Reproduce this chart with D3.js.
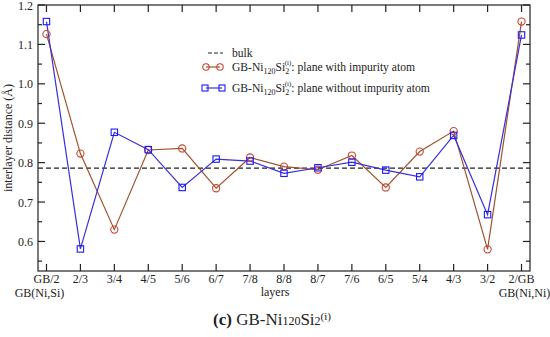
<!DOCTYPE html>
<html>
<head>
<meta charset="utf-8">
<script src="https://cdn.jsdelivr.net/npm/d3@7"></script>
<style>
  body { margin: 0; background: #fff; }
  svg { font-family: "Liberation Serif", "DejaVu Serif", serif; }
</style>
</head>
<body>
<svg id="chart" width="550" height="337"></svg>
<script>
// ##### Data
var layers = ['GB/2', '2/3', '3/4', '4/5', '5/6', '6/7', '7/8', '8/8', '8/7', '7/6', '6/5', '5/4', '4/3', '3/2', '2/GB'];
var withImpurity = [1.126, 0.823, 0.630, 0.832, 0.836, 0.735, 0.813, 0.790, 0.782, 0.818, 0.737, 0.828, 0.880, 0.580, 1.158];
var withoutImpurity = [1.158, 0.581, 0.877, 0.833, 0.737, 0.809, 0.804, 0.773, 0.787, 0.801, 0.781, 0.764, 0.869, 0.668, 1.124];
var bulkValue = 0.786;
var yTicks = [0.6, 0.7, 0.8, 0.9, 1.0, 1.1, 1.2];

// ##### Layout
var svg = d3.select('#chart');
var plotL = 38, plotR = 530, plotT = 5, plotB = 271;

var x = d3.scaleLinear().domain([-0.25, layers.length - 0.75]).range([plotL, plotR]);
var y = d3.scaleLinear().domain([0.525, 1.2]).range([plotB, plotT]);

var redLine = '#a0522d', redMark = '#c8452e';
var blueLine = '#3a2fd8', blueMark = '#1a1aff';

// Frame
svg.append('rect')
  .attr('x', plotL).attr('y', plotT)
  .attr('width', plotR - plotL).attr('height', plotB - plotT)
  .attr('fill', 'none').attr('stroke', '#222').attr('stroke-width', 1.2);

// Inward ticks: bottom & top (major), left & right (major + minor)
var xIdx = d3.range(layers.length);
var tickG = svg.append('g').attr('stroke', '#222').attr('stroke-width', 1.2);
xIdx.forEach(function(i) {
  tickG.append('line').attr('x1', x(i)).attr('x2', x(i)).attr('y1', plotB).attr('y2', plotB - 7);
  tickG.append('line').attr('x1', x(i)).attr('x2', x(i)).attr('y1', plotT).attr('y2', plotT + 7);
});
var minor = [0.55, 0.65, 0.75, 0.85, 0.95, 1.05, 1.15];
yTicks.forEach(function(v) {
  tickG.append('line').attr('x1', plotL).attr('x2', plotL + 7).attr('y1', y(v)).attr('y2', y(v));
  tickG.append('line').attr('x1', plotR).attr('x2', plotR - 7).attr('y1', y(v)).attr('y2', y(v));
});
minor.forEach(function(v) {
  tickG.append('line').attr('x1', plotL).attr('x2', plotL + 4).attr('y1', y(v)).attr('y2', y(v));
  tickG.append('line').attr('x1', plotR).attr('x2', plotR - 4).attr('y1', y(v)).attr('y2', y(v));
});

// Tick labels
svg.append('g').selectAll('text')
  .data(yTicks).enter().append('text')
  .attr('x', plotL - 5).attr('y', function(d) { return y(d) + 4.5; })
  .attr('text-anchor', 'end').attr('font-size', 12).attr('fill', '#222')
  .text(function(d) { return d.toFixed(1); });

svg.append('g').selectAll('text')
  .data(layers).enter().append('text')
  .attr('x', function(d, i) { return x(i); }).attr('y', plotB + 12)
  .attr('text-anchor', 'middle').attr('font-size', 12).attr('fill', '#222')
  .text(function(d) { return d; });

svg.append('text').attr('x', x(0) - 7).attr('y', plotB + 26)
  .attr('text-anchor', 'middle').attr('font-size', 12).attr('fill', '#222').text('GB(Ni,Si)');
svg.append('text').attr('x', x(layers.length - 1) + 3).attr('y', plotB + 26)
  .attr('text-anchor', 'middle').attr('font-size', 12).attr('fill', '#222').text('GB(Ni,Ni)');

// Axis titles
svg.append('text').attr('x', 275).attr('y', plotB + 25)
  .attr('text-anchor', 'middle').attr('font-size', 12).attr('fill', '#222').text('layers');
svg.append('text')
  .attr('transform', 'translate(12,' + (plotT + plotB) / 2 + ') rotate(-90)')
  .attr('text-anchor', 'middle').attr('font-size', 12).attr('fill', '#222')
  .text('interlayer distance (Å)');

// Bulk line
svg.append('line')
  .attr('x1', plotL).attr('x2', plotR).attr('y1', y(bulkValue)).attr('y2', y(bulkValue))
  .attr('stroke', '#222').attr('stroke-width', 1.1).attr('stroke-dasharray', '5,3');

// Series
var line = d3.line().x(function(d, i) { return x(i); }).y(function(d) { return y(d); });

svg.append('path').datum(withImpurity)
  .attr('d', line).attr('fill', 'none').attr('stroke', redLine).attr('stroke-width', 1.2);
svg.append('path').datum(withoutImpurity)
  .attr('d', line).attr('fill', 'none').attr('stroke', blueLine).attr('stroke-width', 1.2);

svg.append('g').selectAll('circle')
  .data(withImpurity).enter().append('circle')
  .attr('cx', function(d, i) { return x(i); }).attr('cy', function(d) { return y(d); })
  .attr('r', 3.6).attr('fill', 'none').attr('stroke', redMark).attr('stroke-width', 1.1);

svg.append('g').selectAll('rect')
  .data(withoutImpurity).enter().append('rect')
  .attr('x', function(d, i) { return x(i) - 3.2; }).attr('y', function(d) { return y(d) - 3.2; })
  .attr('width', 6.4).attr('height', 6.4)
  .attr('fill', 'none').attr('stroke', blueMark).attr('stroke-width', 1.1);

// ##### Legend
var lg = svg.append('g').attr('font-size', 11.6).attr('fill', '#222');
var lx1 = 206, lx2 = 220, tx = 232;
lg.append('line').attr('x1', lx1 + 2).attr('x2', lx2 + 3).attr('y1', 53).attr('y2', 53)
  .attr('stroke', '#222').attr('stroke-dasharray', '4,2');
lg.append('text').attr('x', tx).attr('y', 57).text('bulk');

function seriesLabel(yy, suffix) {
  var t = lg.append('text').attr('x', tx).attr('y', yy + 4);
  t.append('tspan').text('GB-Ni');
  t.append('tspan').attr('font-size', 8).attr('dy', 3).text('120');
  t.append('tspan').attr('dy', -3).text('Si');
  t.append('tspan').attr('font-size', 8).attr('dy', 3).text('2');
  t.append('tspan').attr('font-size', 7).attr('dx', -4.5).attr('dy', -9).text('(i)');
  t.append('tspan').attr('dy', 6).text(': ' + suffix);
}

lg.append('line').attr('x1', lx1).attr('x2', lx2).attr('y1', 67).attr('y2', 67).attr('stroke', redLine).attr('stroke-width', 1.2);
[lx1, lx2].forEach(function(px) {
  lg.append('circle').attr('cx', px).attr('cy', 67).attr('r', 3.2).attr('fill', 'none').attr('stroke', redMark).attr('stroke-width', 1.1);
});
seriesLabel(67, 'plane with impurity atom');

lg.append('line').attr('x1', lx1).attr('x2', lx2 + 2).attr('y1', 88).attr('y2', 88).attr('stroke', blueLine).attr('stroke-width', 1.2);
[lx1 - 1, lx2 + 2].forEach(function(px) {
  lg.append('rect').attr('x', px - 3).attr('y', 85).attr('width', 6).attr('height', 6).attr('fill', 'none').attr('stroke', blueMark).attr('stroke-width', 1.1);
});
seriesLabel(88, 'plane without impurity atom');

// ##### Caption
var cap = svg.append('text').attr('x', 272).attr('y', 325)
  .attr('text-anchor', 'middle').attr('font-size', 17).attr('fill', '#222');
cap.append('tspan').attr('font-weight', 'bold').text('(c)');
cap.append('tspan').text(' GB-Ni');
cap.append('tspan').attr('font-size', 12).text('120');
cap.append('tspan').text('Si');
cap.append('tspan').attr('font-size', 12).text('2');
cap.append('tspan').attr('font-size', 11).attr('dy', -5).text('(i)');
</script>
</body>
</html>
